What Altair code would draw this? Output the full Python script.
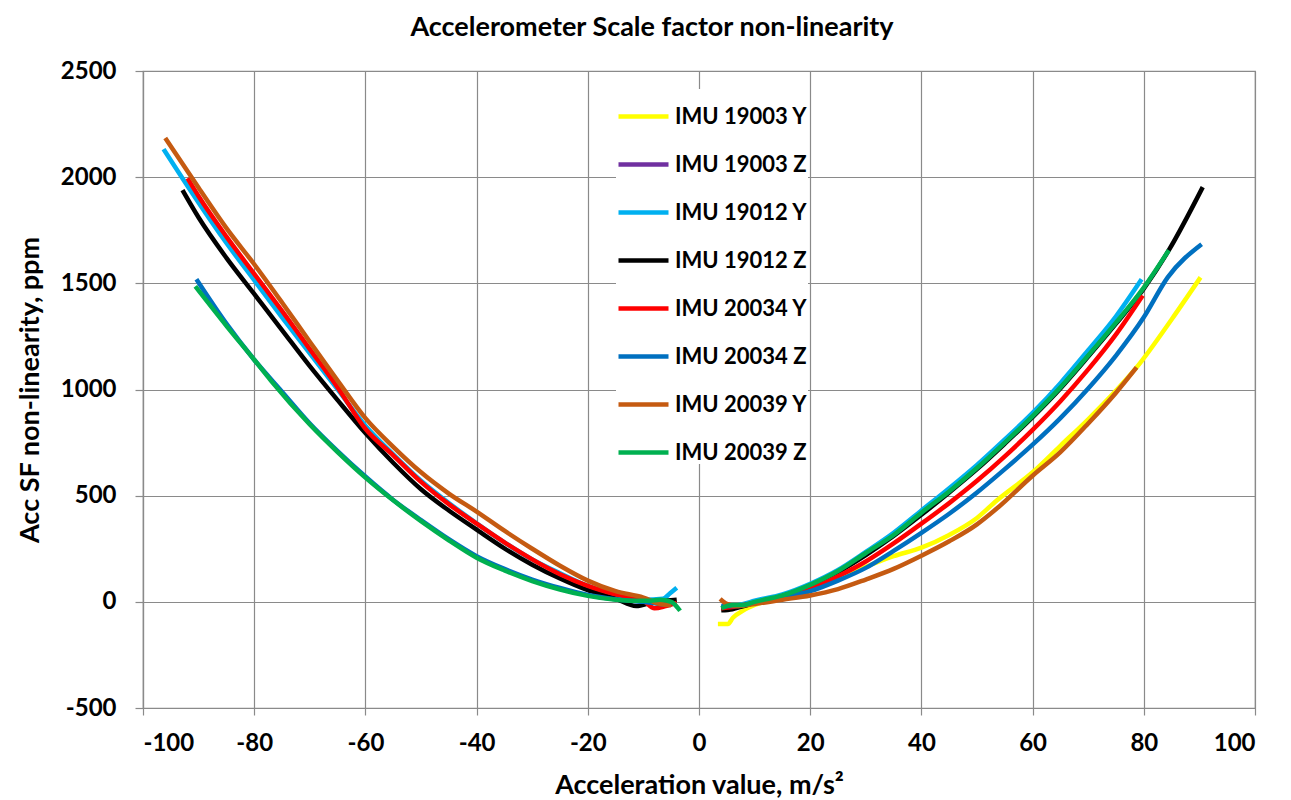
import altair as alt
import pandas as pd

TITLE = "Accelerometer Scale factor non-linearity"
X_TITLE = "Acceleration value, m/s\u00b2"
Y_TITLE = "Acc SF non-linearity, ppm"

series_names = ["IMU 19003 Y", "IMU 19003 Z", "IMU 19012 Y", "IMU 19012 Z",
                "IMU 20034 Y", "IMU 20034 Z", "IMU 20039 Y", "IMU 20039 Z"]
series_colors = ["#FFFF00", "#7030A0", "#00B0F0", "#000000",
                 "#FF0000", "#0070C0", "#C55A11", "#00B050"]

x_ticks = [-100, -80, -60, -40, -20, 0, 20, 40, 60, 80, 100]
y_ticks = [-500, 0, 500, 1000, 1500, 2000, 2500]

# ---- IMU 19003 Y (right branch only) ----
y19003_rx = [3.4, 5.2, 6.1, 8, 10, 15, 20, 25, 30, 35, 40, 45, 50, 53.5, 60, 65, 70, 75, 78.7, 85, 90.2]
y19003_ry = [-104, -104, -75, -40, -15, 20, 60, 110, 165, 215, 255, 315, 395, 476, 610, 735, 860, 995, 1104, 1330, 1528]

# ---- IMU 19012 Y ----
y19012_lx = [-96.3, -90, -85, -80, -75, -70, -65, -60, -55, -50, -45, -40, -35, -30, -25, -20, -15, -10, -6.5, -5.2, -4]
y19012_ly = [2132, 1880, 1690, 1515, 1340, 1170, 1000, 830, 695, 570, 465, 370, 280, 200, 135, 75, 35, 10, 14, 40, 66]
y19012_rx = [4, 6, 8, 10, 15, 20, 25, 30, 35, 40, 45, 50, 55, 60, 65, 70, 75, 79.6]
y19012_ry = [-25, -20, -10, 5, 35, 85, 150, 235, 325, 430, 535, 645, 765, 890, 1030, 1185, 1345, 1519]

# ---- IMU 19012 Z ----
z19012_lx = [-92.9, -90, -85, -80, -75, -70, -65, -60, -55, -50, -45, -40, -35, -30, -25, -20, -15, -11.3, -8, -6, -4]
z19012_ly = [1939, 1810, 1620, 1450, 1280, 1110, 950, 795, 655, 530, 430, 340, 252, 175, 110, 55, 15, -20, 0, 5, 10]
z19012_rx = [4, 6, 8, 10, 15, 20, 25, 30, 35, 40, 45, 50, 55, 60, 65, 70, 75, 80, 84.5, 90.6]
z19012_ry = [-40, -35, -20, -5, 25, 75, 140, 220, 310, 410, 515, 625, 745, 870, 1005, 1155, 1310, 1475, 1656, 1953]

# ---- IMU 20034 Y ----
y20034_lx = [-92, -90, -85, -80, -75, -70, -65, -60, -55, -50, -45, -40, -35, -30, -25, -20, -15, -10, -8, -6, -4]
y20034_ly = [1995, 1910, 1720, 1545, 1370, 1190, 1010, 815, 690, 565, 460, 368, 280, 200, 130, 75, 35, 5, -30, -20, -5]
y20034_rx = [4, 6, 8, 10, 15, 20, 25, 30, 35, 40, 45, 50, 55, 60, 65, 70, 75, 79.8]
y20034_ry = [-30, -25, -15, -5, 20, 60, 120, 190, 275, 368, 465, 570, 685, 810, 945, 1095, 1260, 1443]

# ---- IMU 20034 Z ----
z20034_lx = [-90.4, -85, -80, -75, -70, -65, -60, -55, -50, -45, -40, -35, -30, -25, -20, -15, -10, -7, -5]
z20034_ly = [1519, 1310, 1140, 990, 840, 710, 590, 480, 385, 295, 215, 155, 105, 65, 32, 12, 0, -10, -15]
z20034_rx = [4, 7, 10, 15, 20, 25, 30, 35, 40, 45, 50, 55, 60, 65, 70, 75, 80, 84.3, 90.4]
z20034_ry = [-20, -20, -5, 20, 50, 100, 160, 240, 325, 415, 515, 625, 740, 865, 1005, 1160, 1340, 1528, 1684]

# ---- IMU 20039 Y ----
y20039_lx = [-96, -90, -85, -80, -75, -70, -65, -60, -55, -50, -45, -40, -35, -30, -25, -20, -15, -10, -7, -5]
y20039_ly = [2185, 1950, 1760, 1590, 1410, 1225, 1042, 865, 730, 610, 510, 425, 335, 250, 170, 100, 50, 20, -10, -15]
y20039_rx = [3.8, 5, 7, 10, 15, 20, 25, 30, 35, 40, 45, 50, 53.5, 60, 65, 70, 75, 78.7]
y20039_ry = [14, -10, -20, -10, 10, 30, 60, 105, 155, 217, 285, 365, 438, 594, 705, 840, 985, 1104]

# ---- IMU 20039 Z ----
z20039_lx = [-90.6, -85, -80, -77, -70, -65, -60, -55, -50, -45, -40, -35, -30, -25, -20, -15, -12, -9, -7, -5, -3.4]
z20039_ly = [1486, 1300, 1140, 1042, 835, 705, 585, 478, 380, 290, 208, 148, 98, 58, 28, 10, 5, 5, 10, 0, -42]
z20039_rx = [4, 6, 8, 10, 15, 20, 25, 30, 35, 40, 45, 50, 55, 60, 65, 70, 75, 80, 84.5]
z20039_ry = [-30, -15, -15, 0, 30, 80, 145, 230, 315, 420, 520, 630, 750, 875, 1010, 1160, 1315, 1480, 1656]

segments = [
    ("IMU 19003 Y", "R", y19003_rx, y19003_ry),
    ("IMU 19012 Y", "L", y19012_lx, y19012_ly),
    ("IMU 19012 Y", "R", y19012_rx, y19012_ry),
    ("IMU 19012 Z", "L", z19012_lx, z19012_ly),
    ("IMU 19012 Z", "R", z19012_rx, z19012_ry),
    ("IMU 20034 Y", "L", y20034_lx, y20034_ly),
    ("IMU 20034 Y", "R", y20034_rx, y20034_ry),
    ("IMU 20034 Z", "L", z20034_lx, z20034_ly),
    ("IMU 20034 Z", "R", z20034_rx, z20034_ry),
    ("IMU 20039 Y", "L", y20039_lx, y20039_ly),
    ("IMU 20039 Y", "R", y20039_rx, y20039_ry),
    ("IMU 20039 Z", "L", z20039_lx, z20039_ly),
    ("IMU 20039 Z", "R", z20039_rx, z20039_ry),
]

rows = []
for k, (name, side, xs, ys) in enumerate(segments):
    for i, (xv, yv) in enumerate(zip(xs, ys)):
        rows.append({"series": name, "seg": f"{k:02d}_{name}_{side}", "x": xv, "y": yv, "i": i})
df = pd.DataFrame(rows)

FONT = "Lato"
GRID = "#8a8a8a"
LABEL_EXPR = "'' + datum.value"

chart = alt.Chart(df).mark_line(strokeWidth=4.5, interpolate="monotone").encode(
    x=alt.X("x:Q", scale=alt.Scale(domain=[-100, 100], nice=False),
            axis=alt.Axis(values=x_ticks, labelExpr=LABEL_EXPR, title=X_TITLE, tickSize=7,
                          labelPadding=16, titlePadding=17)),
    y=alt.Y("y:Q", scale=alt.Scale(domain=[-500, 2500], nice=False),
            axis=alt.Axis(values=y_ticks, labelExpr=LABEL_EXPR, title=Y_TITLE, tickSize=8,
                          labelPadding=19, titlePadding=16)),
    color=alt.Color("series:N",
                    scale=alt.Scale(domain=series_names, range=series_colors),
                    legend=alt.Legend(title=None, orient="none", legendX=473, legendY=18,
                                      symbolType="stroke", symbolSize=2500,
                                      symbolStrokeWidth=4.5, rowPadding=9,
                                      labelFont=FONT, labelFontSize=22,
                                      labelFontWeight="bold", labelColor="black",
                                      labelOffset=4, fillColor="white")),
    detail="seg:N",
    order="i:Q",
).properties(
    width=1112, height=637,
    title=alt.TitleParams(TITLE, font=FONT, fontSize=27, fontWeight="bold",
                          color="black", anchor="middle", dx=-47, offset=17),
    autosize=alt.AutoSizeParams(type="none"),
    padding={"left": 135, "top": 63, "right": 20, "bottom": 90},
).configure_axis(
    labelFont=FONT, labelFontSize=24, labelFontWeight="bold", labelColor="black",
    titleFont=FONT, titleFontSize=27, titleFontWeight="bold", titleColor="black",
    gridColor=GRID, gridOpacity=1, gridWidth=1.2,
    domainColor=GRID, domainWidth=1.2, tickColor=GRID, tickWidth=1.2,
).configure_view(stroke=GRID, strokeWidth=1.2)

chart.save("out.html", embed_options={"renderer": "svg", "actions": False})
